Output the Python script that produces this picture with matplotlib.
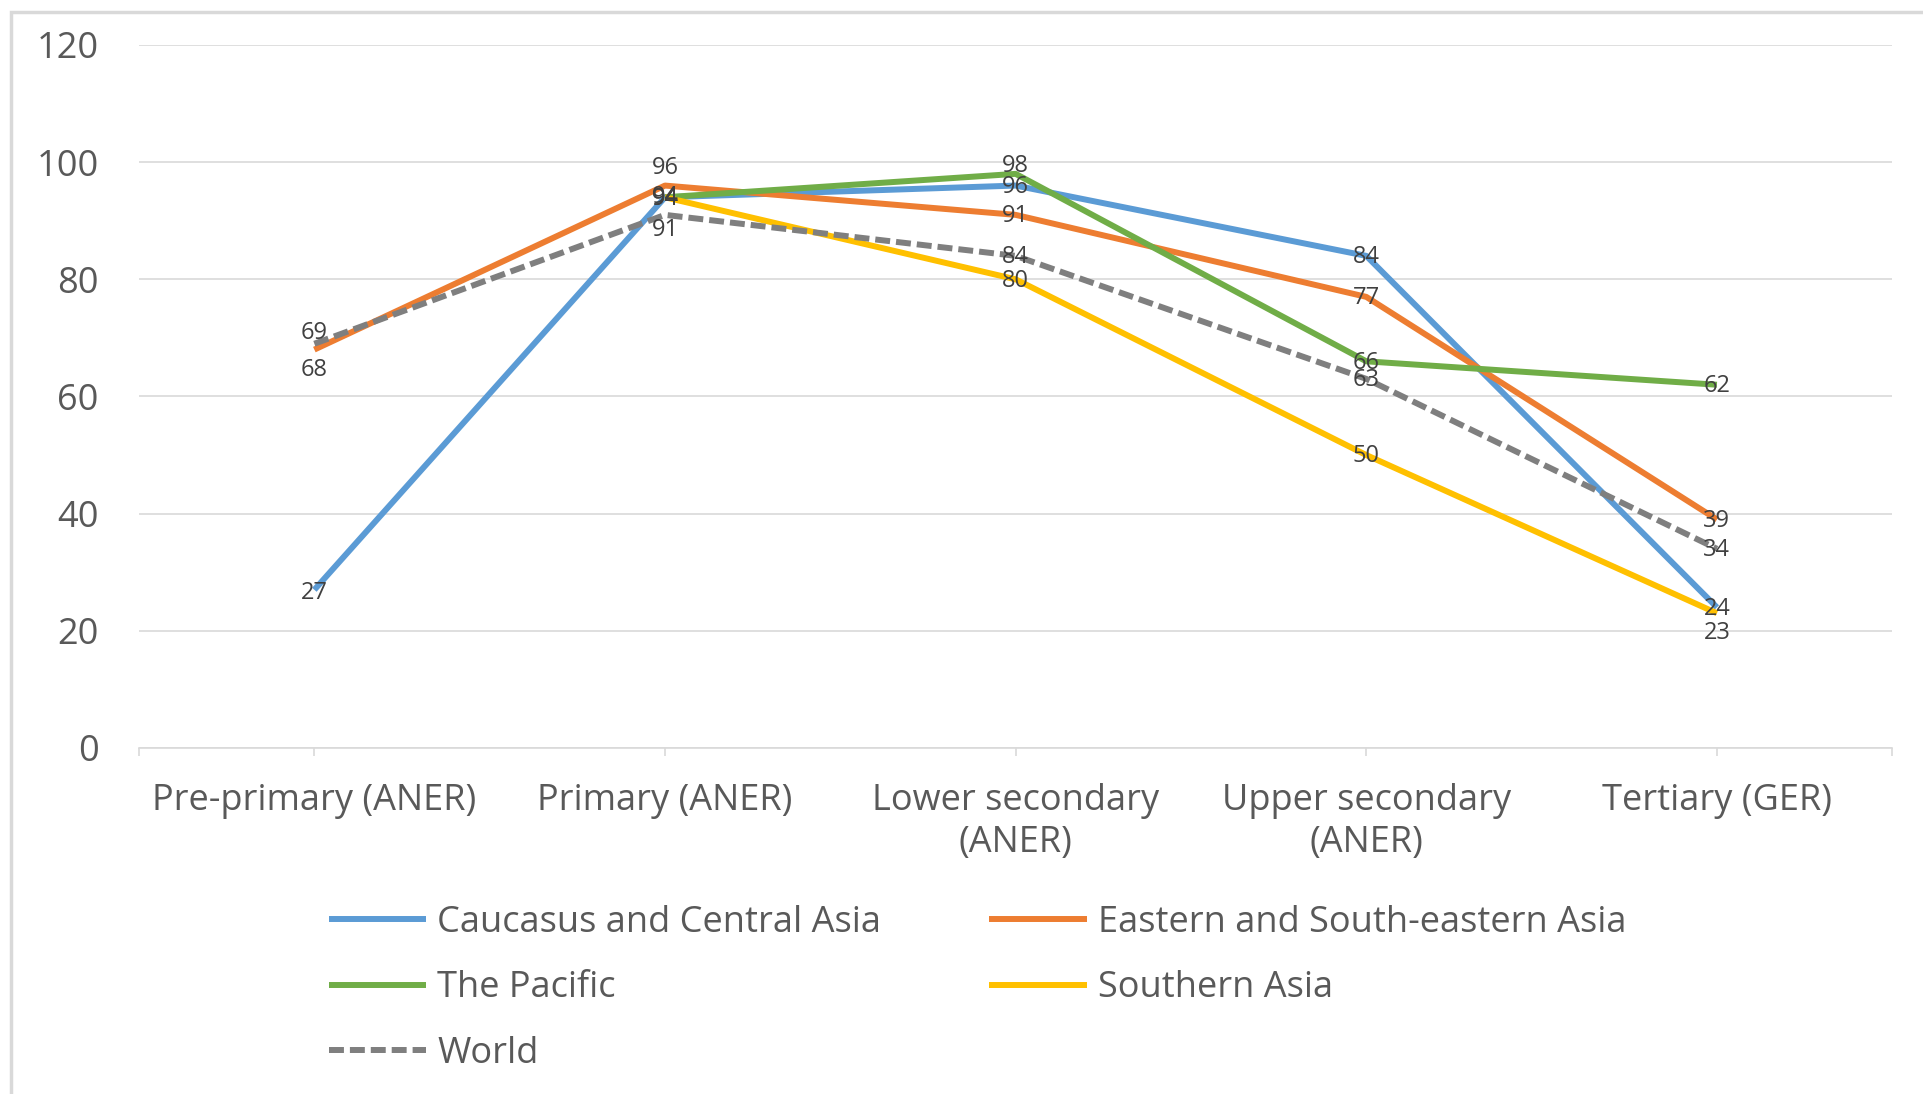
import matplotlib.pyplot as plt
import matplotlib.patches as patches
import numpy as np

# chart data
levels = ["Pre-primary (ANER)", "Primary (ANER)", "Lower secondary\n(ANER)",
          "Upper secondary\n(ANER)", "Tertiary (GER)"]
caucasus = [27, 94, 96, 84, 24]
eastern = [68, 96, 91, 77, 39]
pacific = [np.nan, 94, 98, 66, 62]
southern = [np.nan, 94, 80, 50, 23]
world = [69, 91, 84, 63, 34]

names = ["Caucasus and Central Asia", "Eastern and South-eastern Asia",
         "The Pacific", "Southern Asia", "World"]
series = [caucasus, eastern, pacific, southern, world]
colors = ["#5B9BD5", "#ED7D31", "#70AD47", "#FFC000", "#7F7F7F"]

# vertical offsets (points) of the value labels, default centred on the point
label_dy = {
    (4, 0): 8, (1, 0): -15, (0, 0): -2,
    (1, 1): 13, (0, 1): 0, (4, 1): -11,
    (2, 2): 6,
    (3, 4): -14,
}

plt.rcParams['font.family'] = ['Open Sans', 'DejaVu Sans']

fig = plt.figure(figsize=(19.23, 10.94), dpi=100)
ax = fig.add_axes([0.0723, 0.3163, 0.9117, 0.6426])

x = np.arange(len(levels))
handles = []
for i, (name, vals, col) in enumerate(zip(names, series, colors)):
    if name == "World":
        ln, = ax.plot(x, vals, color=col, lw=4.3, dashes=(2.5, 1.0),
                      dash_capstyle='butt', zorder=3, label=name)
    else:
        ln, = ax.plot(x, vals, color=col, lw=4.3, solid_capstyle='butt',
                      solid_joinstyle='round', zorder=3, label=name)
    handles.append(ln)
    for j, v in enumerate(vals):
        if np.isnan(v):
            continue
        dy = label_dy.get((i, j), -1)
        ax.annotate(str(v), (j, v), xytext=(0, dy), textcoords='offset points',
                    ha='center', va='center', fontsize=17, color='#404040',
                    zorder=5)

ax.set_xlim(-0.5, 4.5)
ax.set_ylim(0, 120)
ax.set_yticks(range(0, 121, 20))
ax.set_xticks(x)
ax.set_xticklabels(levels)
ax.set_xticks([-0.5, 4.5], minor=True)
ax.grid(axis='y', color='#D9D9D9', lw=1.2, zorder=0)
ax.set_axisbelow(True)
for s in ['top', 'right', 'left']:
    ax.spines[s].set_visible(False)
ax.spines['bottom'].set_color('#D9D9D9')
ax.spines['bottom'].set_linewidth(1.2)
ax.tick_params(axis='y', length=0, pad=29, labelsize=26, labelcolor='#595959')
ax.tick_params(axis='x', which='both', length=6, width=1.2, color='#D9D9D9',
               pad=19, labelsize=26, labelcolor='#595959')
for t in ax.get_xticklabels():
    t.set_linespacing(1.25)

order = [0, 2, 4, 1, 3]
ax.legend([handles[k] for k in order], [names[k] for k in order], ncol=2,
          loc='upper left', bbox_to_anchor=(0.171, 0.173),
          bbox_transform=fig.transFigure, frameon=False, fontsize=26,
          labelcolor='#595959', handlelength=2.7, handletextpad=0.3,
          columnspacing=3.0, labelspacing=0.82, borderpad=0, borderaxespad=0)

# light outer frame of the chart area
fig.add_artist(patches.Rectangle((11 / 1923, -0.1), 1.2, 1.0945 - 6 / 1094,
                                 transform=fig.transFigure, fill=False,
                                 edgecolor='#D9D9D9', lw=2.5))

fig.savefig("out.png", dpi=100)
